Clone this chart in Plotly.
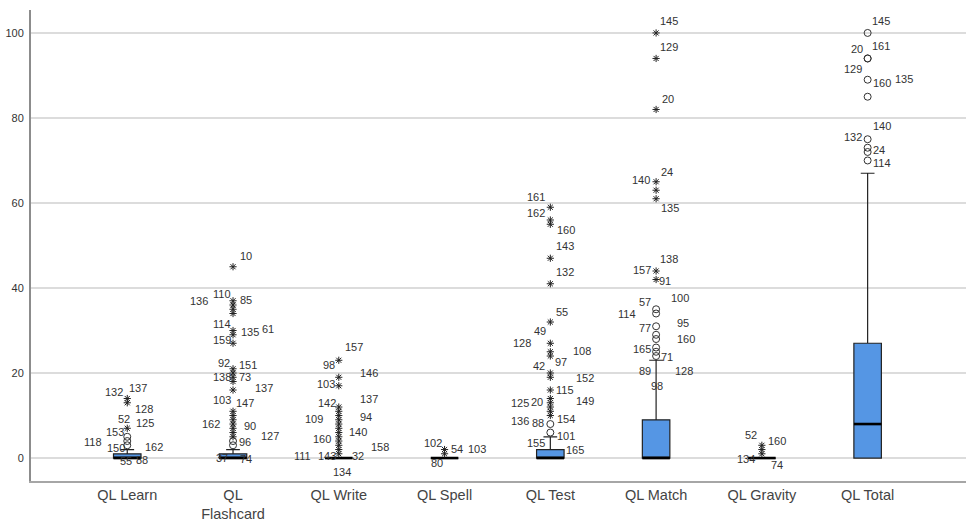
import plotly.graph_objects as go

# ---------------- data ----------------
categories = ["QL Learn", "QL<br>Flashcard", "QL Write", "QL Spell",
              "QL Test", "QL Match", "QL Gravity", "QL Total"]
q1_vals = [0, 0, 0, 0, 0, 0, 0, 0]
median_vals = [0, 0, 0, 0, 0, 0, 0, 8]
q3_vals = [1, 1, 0, 0, 2, 9, 0, 27]
lower_whisker = [0, 0, 0, 0, 0, 0, 0, 0]
upper_whisker = [2, 2, 0, 0, 5, 23, 0, 67]

# outliers (circles) and extremes (stars) per category
learn_outliers = [3, 4, 5]
learn_extremes = [7, 13, 14]
flash_outliers = [3, 4]
flash_extremes = [5, 6, 7, 8, 9, 10, 11, 16, 18, 19, 20, 21, 27, 29, 30, 34, 35, 36, 37, 45]
write_outliers = []
write_extremes = [1, 2, 3, 4, 5, 6, 7, 8, 9, 10, 11, 12, 17, 19, 23]
spell_outliers = []
spell_extremes = [1, 2]
test_outliers = [6, 8]
test_extremes = [10, 11, 12, 13, 14, 16, 19, 20, 24, 25, 27, 32, 41, 47, 55, 56, 59]
match_outliers = [24, 25, 26, 28, 29, 31, 34, 35]
match_extremes = [42, 44, 61, 63, 65, 82, 94, 100]
gravity_outliers = []
gravity_extremes = [1, 2, 3]
total_outliers = [70, 72, 73, 75, 85, 89, 94, 94, 100]
total_extremes = []

# case labels: (case id, value of the point it marks)
learn_labels = [("132", 14), ("137", 14), ("128", 13), ("52", 7), ("125", 7), ("153", 5),
                ("118", 4), ("150", 3), ("162", 3), ("55", 0), ("88", 0)]
flash_labels = [("10", 45), ("136", 36), ("110", 37), ("85", 37), ("114", 30), ("135", 29),
                ("61", 30), ("159", 27), ("92", 21), ("151", 21), ("138", 19), ("73", 19),
                ("137", 16), ("103", 10), ("147", 10), ("162", 8), ("90", 8), ("127", 5),
                ("96", 4), ("37", 0), ("74", 0)]
write_labels = [("157", 23), ("98", 23), ("146", 19), ("103", 17), ("142", 12), ("137", 12),
                ("109", 9), ("94", 9), ("140", 6), ("160", 4), ("111", 0), ("143", 0),
                ("32", 0), ("158", 2), ("134", 0)]
spell_labels = [("102", 1), ("54", 1), ("103", 1), ("80", 0)]
test_labels = [("161", 59), ("162", 56), ("160", 55), ("143", 47), ("132", 41), ("55", 32),
               ("49", 27), ("128", 27), ("108", 25), ("42", 20), ("97", 20), ("152", 20),
               ("115", 16), ("125", 14), ("20", 14), ("149", 14), ("154", 10), ("136", 10),
               ("88", 8), ("101", 6), ("155", 2), ("165", 2)]
match_labels = [("145", 100), ("129", 94), ("20", 82), ("24", 65), ("140", 65), ("135", 61),
                ("138", 44), ("157", 44), ("91", 42), ("100", 35), ("57", 35), ("114", 34),
                ("95", 31), ("77", 31), ("160", 28), ("165", 25), ("71", 24), ("89", 23),
                ("128", 23), ("98", 23)]
gravity_labels = [("52", 3), ("160", 3), ("134", 0), ("74", 0)]
total_labels = [("145", 100), ("20", 94), ("161", 94), ("129", 89), ("160", 89), ("135", 89),
                ("140", 75), ("132", 75), ("24", 73), ("114", 70)]

# ---------------- label placement (pixel offsets, styling only) ----------------
learn_offsets = [(-13, 7), (11, 11), (17, -6), (-3, 9), (18, 5), (-12, 5), (-34, -1),
                 (-11, -3), (27, -2), (-1, -3), (15, -2)]
flash_offsets = [(13, 11), (-34, 4), (-11, 7), (13, 1), (-11, 7), (17, 3), (35, 2), (-11, 3.5),
                 (-9, 6), (15, 4), (-11, 0), (12, 0), (31, 2), (-11, 16), (12, 13), (-22, 0),
                 (17, -2), (37, 1), (12, -1), (-11, 0), (13, -1)]
write_offsets = [(15, 13), (-10, -5), (30, 4), (-13, 2), (-12, 4.5), (30, 8), (-25, 1), (27, 3),
                 (19, 1), (-17, 2), (-36, 2), (-12, 2), (19, 2), (41, 3), (3, -14)]
spell_offsets = [(-12, 11), (12, 5), (32, 5), (-8, -5)]
test_offsets = [(-14, 10.5), (-14, 7), (16, -5.5), (15, 12.5), (15, 12), (12, 10), (-10, 12),
                (-28, 0), (32, 1), (-11, 7), (11, 11), (35, -5), (15, 0), (-30, -4), (-13, -3),
                (35, -2), (16, -3), (-30, -5), (-12, 1.5), (16, -3), (-14, 7), (25, 0)]
match_offsets = [(13, 11.6), (13, 11), (12, 10.5), (11, 10), (-15, 2), (14, -9), (13, 12),
                 (-14, 1), (9, -1), (24, 11), (-11, 7), (-29, 0), (27, 3), (-11, -2), (30, 0),
                 (-14, 3), (11, -1), (-11, -11), (28, -11), (1, -26)]
gravity_offsets = [(-11, 10.5), (15, 4.5), (-16, -1), (15, -7)]
total_offsets = [(13, 11.6), (-11, 9.5), (13, 12), (-15, 10.7), (14, -3), (36, 0.7), (14, 13),
                 (-15, 2), (11, -2), (14, -3)]

outliers_by_cat = [learn_outliers, flash_outliers, write_outliers, spell_outliers,
                   test_outliers, match_outliers, gravity_outliers, total_outliers]
extremes_by_cat = [learn_extremes, flash_extremes, write_extremes, spell_extremes,
                   test_extremes, match_extremes, gravity_extremes, total_extremes]
labels_by_cat = [learn_labels, flash_labels, write_labels, spell_labels,
                 test_labels, match_labels, gravity_labels, total_labels]
offsets_by_cat = [learn_offsets, flash_offsets, write_offsets, spell_offsets,
                  test_offsets, match_offsets, gravity_offsets, total_offsets]

FONT = "Liberation Sans, Arial, sans-serif"
BOX_W = 0.26
positions = list(range(len(categories)))

fig = go.Figure()

fig.add_trace(go.Box(
    x=positions, q1=q1_vals, median=median_vals, q3=q3_vals,
    lowerfence=lower_whisker, upperfence=upper_whisker,
    width=BOX_W, whiskerwidth=0.5, boxpoints=False,
    fillcolor="#5596e4", line=dict(color="#222222", width=1.2),
    hoverinfo="skip", showlegend=False,
))

# thick median lines
mx, my = [], []
for i, m in zip(positions, median_vals):
    mx += [i - BOX_W / 2, i + BOX_W / 2, None]
    my += [m, m, None]
fig.add_trace(go.Scatter(x=mx, y=my, mode="lines", line=dict(color="#000000", width=2.6),
                         hoverinfo="skip", showlegend=False))

# outliers (circles) and extremes (stars)
ox, oy, ex, ey = [], [], [], []
for i in positions:
    ox += [i] * len(outliers_by_cat[i]); oy += outliers_by_cat[i]
    ex += [i] * len(extremes_by_cat[i]); ey += extremes_by_cat[i]
fig.add_trace(go.Scatter(x=ox, y=oy, mode="markers",
                         marker=dict(symbol="circle-open", size=7, color="#333333",
                                     line=dict(width=1.0, color="#333333")),
                         hoverinfo="skip", showlegend=False))
fig.add_trace(go.Scatter(x=ex, y=ey, mode="markers",
                         marker=dict(symbol="asterisk-open", size=6, color="#222222",
                                     line=dict(width=1.0, color="#222222")),
                         hoverinfo="skip", showlegend=False))

annotations = []
for i in positions:
    for (txt, val), (dx, dy) in zip(labels_by_cat[i], offsets_by_cat[i]):
        annotations.append(dict(x=i, y=val, xref="x", yref="y", text=txt, showarrow=False,
                                xshift=dx, yshift=dy,
                                font=dict(family=FONT, size=11, color="#333333")))

fig.update_layout(
    width=966, height=521,
    margin=dict(l=31, r=0, t=10, b=40),
    paper_bgcolor="white", plot_bgcolor="white",
    annotations=annotations,
    font=dict(family=FONT, color="#333333"),
    xaxis=dict(range=[-0.91, 7.93], tickmode="array", tickvals=positions, ticktext=categories,
               showgrid=False, zeroline=False, showline=True, linecolor="#a6a6a6", linewidth=2,
               ticks="", automargin=False,
               tickfont=dict(family=FONT, size=14.5, color="#444444"), fixedrange=True),
    yaxis=dict(range=[-5.4, 105.4], tickmode="array", tickvals=[0, 20, 40, 60, 80, 100],
               showgrid=True, gridcolor="#dcdcdc", gridwidth=1.5, zeroline=False,
               showline=True, linecolor="#8c8c8c", linewidth=2, automargin=False,
               ticks="outside", ticklen=3, tickcolor="rgba(0,0,0,0)",
               tickfont=dict(family=FONT, size=11, color="#333333"), fixedrange=True),
)

fig.write_html(
    "out.html",
    config={"displayModeBar": False},
    post_script="document.body.style.margin='0px';document.body.style.overflow='hidden';",
)
